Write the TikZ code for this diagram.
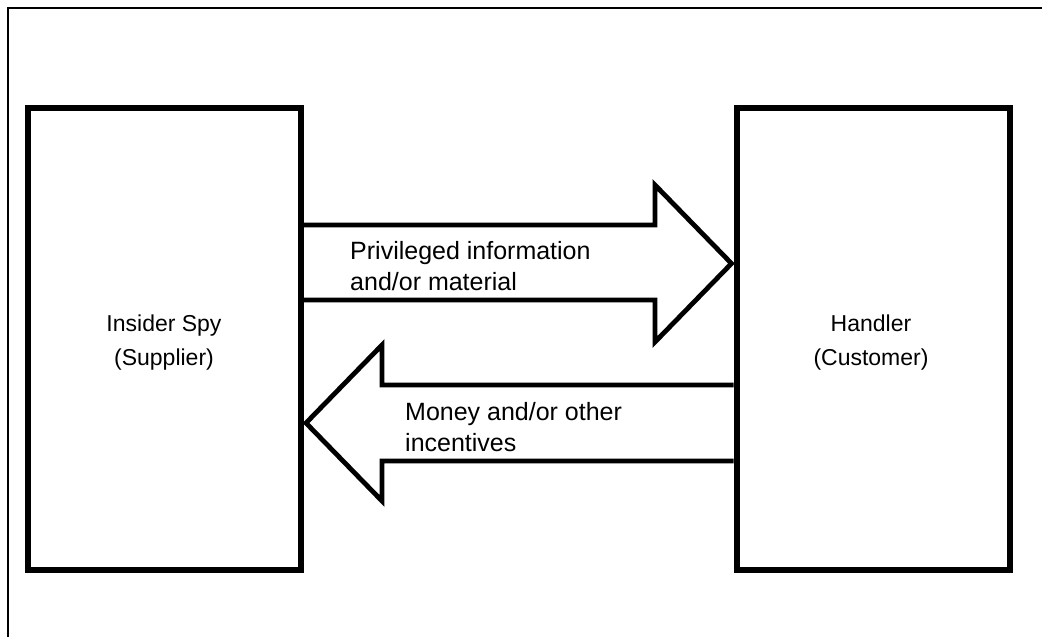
\documentclass[tikz,border=0pt]{standalone}
\usepackage{fontspec}
\setmainfont{Liberation Sans}
\usetikzlibrary{calc}
\begin{document}
\begin{tikzpicture}[x=1pt,y=-1pt,
  frame/.style={line width=2pt},
  party/.style={draw,line width=6pt,inner sep=0pt,minimum width=273pt,minimum height=462pt},
  blockarrow/.style={draw,line width=4.8pt,miter limit=10},
  arrowtext/.style={font=\fontsize{25}{31}\selectfont,align=left,anchor=base west,inner sep=0pt},
  partytext/.style={font=\fontsize{23}{34}\selectfont,align=center,anchor=base,inner sep=0pt}]
\useasboundingbox (0,0) rectangle (1042,637);
\clip (0,0) rectangle (1042,637);
\draw[frame] (8,645) -- (8,8) -- (1050,8);
% boxes
\node[party] (sup) at (164.5,339) {};
\node[party] (cus) at (873,339) {};
% right arrow
\draw[blockarrow] (sup.east |- 0,225) -- (655,225) -- (655,185)
  -- ($(cus.west |- 0,263.5)+(-2,0)$) -- (655,342) -- (655,300) -- (sup.east |- 0,300);
% left arrow
\draw[blockarrow] (cus.west |- 0,385) -- (382,385) -- (382,345)
  -- ($(sup.east |- 0,423)+(2,0)$) -- (382,501) -- (382,461) -- (cus.west |- 0,461);
% labels
\node[arrowtext] (t1) at (350,290) {Privileged information\\and/or material};
\node[arrowtext] (t2) at (405,451) {Money and/or other\\incentives};
\node[partytext] (l1) at (164,365) {Insider Spy\\(Supplier)};
\node[partytext] (l2) at (871,365) {Handler\\(Customer)};
\end{tikzpicture}
\end{document}
